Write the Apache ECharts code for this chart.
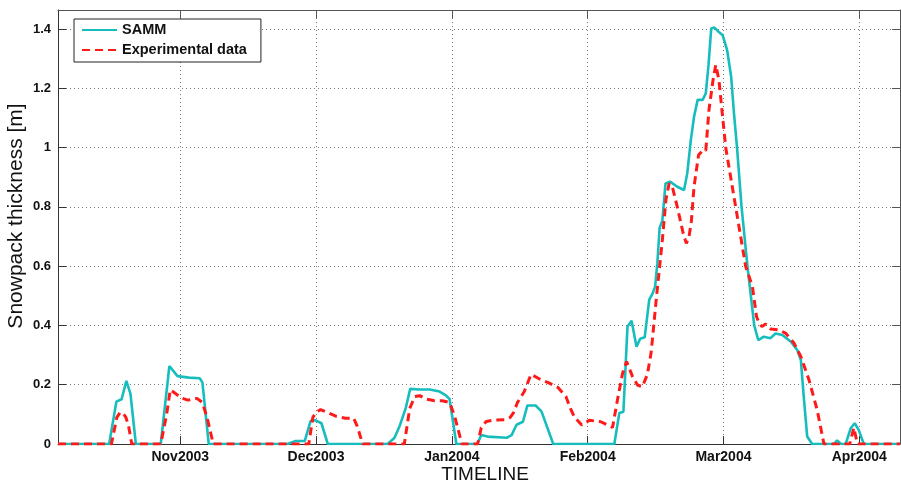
<!DOCTYPE html>
<html>
<head>
<meta charset="utf-8">
<script src="https://cdn.jsdelivr.net/npm/echarts@6/dist/echarts.min.js"></script>
<style>
html,body{margin:0;padding:0;background:#fff;}
#chart{width:901px;height:482px;}
</style>
</head>
<body>
<div id="chart"></div>
<script>
// Tick positions (day index from left edge of the time axis) and their labels
const monthLabels = ['Nov2003', 'Dec2003', 'Jan2004', 'Feb2004', 'Mar2004', 'Apr2004'];
const monthTickDays = [27, 57, 87, 117, 147, 177];

// SAMM model: day index and snowpack thickness [m]
const sammDays = [0, 11.3, 12.9, 14.05, 15.1, 16.0, 17.2,
  22.7, 24.6, 26.4, 28.9, 31.3, 31.9, 33.3,
  50.7, 52.5, 54.5, 55.8, 56.9, 58.2, 59.6,
  72.8, 74.3, 75.4, 76.8, 77.8, 79.9, 82.1, 84.3, 85.6, 86.5, 88.0,
  92.6, 93.5, 94.9, 99.1, 100.2, 101.3, 102.7, 103.7, 105.5, 106.8, 109.4,
  122.9, 124.0, 124.9, 125.8, 126.7, 127.8, 128.6, 129.6, 130.6, 131.4, 131.9, 132.4, 132.9, 133.5, 134.2, 135.2,
  136.8, 138.3, 139.0, 139.8, 140.5, 141.3, 142.4, 143.1, 143.7, 144.3, 145.0, 145.9, 146.8, 147.8, 148.7, 149.3,
  150.0, 151.0, 152.3, 153.8, 154.7, 155.9, 157.4, 158.5, 160.0, 161.9, 163.3, 164.1, 164.8, 165.5, 166.6,
  171.4, 172.1, 173.0, 174.0, 175.1, 176.0, 176.9, 178.0, 186];
const sammValues = [0, 0, 0.143, 0.151, 0.213, 0.17, 0,
  0, 0.263, 0.229, 0.224, 0.222, 0.208, 0,
  0, 0.01, 0.01, 0.078, 0.08, 0.07, 0,
  0, 0.02, 0.058, 0.12, 0.186, 0.184, 0.184, 0.177, 0.165, 0.152, 0,
  0, 0.03, 0.025, 0.021, 0.03, 0.065, 0.075, 0.13, 0.13, 0.11, 0,
  0, 0.105, 0.109, 0.396, 0.416, 0.328, 0.355, 0.36, 0.486, 0.51, 0.531, 0.61, 0.73, 0.753, 0.879, 0.885,
  0.868, 0.857, 0.913, 1.026, 1.104, 1.161, 1.161, 1.183, 1.279, 1.402, 1.405, 1.391, 1.38, 1.33, 1.24, 1.12,
  1.0, 0.8, 0.6, 0.4, 0.35, 0.362, 0.357, 0.373, 0.368, 0.345, 0.317, 0.283, 0.148, 0.025, 0,
  0, 0.012, 0, 0, 0.053, 0.07, 0.047, 0, 0];

// Experimental data: day index and snowpack thickness [m]
const expDays = [0, 11.8, 12.6, 13.0, 13.7, 14.3, 15.0, 15.6, 16.3,
  22.7, 24.0, 24.8, 25.8, 27.3, 28.7, 30.7, 31.9, 33.0, 34.3,
  55.4, 56.3, 57.1, 58.0, 59.8, 61.5, 63.5, 65.3, 66.1, 67.3,
  76.5, 77.7, 78.8, 79.9, 81.4, 83.2, 84.9, 86.5, 87.6, 88.7, 89.2,
  92.7, 93.5, 94.6, 96.4, 98.6, 99.9, 100.6, 101.5, 103.0, 104.5, 106.3, 108.3, 110.5, 112.2, 113.2, 114.1,
  115.7, 117.4, 119.9, 122.5, 123.6, 124.7, 125.6, 126.9, 128.0, 129.1, 130.2, 131.0, 131.3, 132.1, 133.5,
  134.3, 135.0, 135.7, 136.8, 138.1, 138.8, 139.4, 139.9, 140.5, 141.5, 142.5, 143.1, 143.8, 144.7, 145.3,
  146.0, 147.5, 149.7, 151.9, 153.4, 154.3, 154.9, 155.5, 156.3, 157.4, 159.3, 160.8, 162.6, 164.1, 165.9,
  167.7, 169.2, 174.9, 175.8, 176.6, 186];
const expValues = [0, 0, 0.06, 0.09, 0.106, 0.105, 0.09, 0.06, 0,
  0, 0.1, 0.183, 0.172, 0.155, 0.148, 0.154, 0.14, 0.085, 0,
  0, 0.09, 0.108, 0.116, 0.104, 0.093, 0.087, 0.087, 0.06, 0,
  0, 0.12, 0.16, 0.163, 0.151, 0.146, 0.146, 0.14, 0.095, 0.03, 0,
  0, 0.055, 0.076, 0.081, 0.082, 0.09, 0.105, 0.14, 0.177, 0.235, 0.22, 0.207, 0.19, 0.16, 0.12, 0.09,
  0.064, 0.08, 0.075, 0.056, 0.15, 0.238, 0.278, 0.228, 0.199, 0.193, 0.235, 0.306, 0.351, 0.48, 0.688,
  0.825, 0.879, 0.868, 0.8, 0.711, 0.677, 0.7, 0.75, 0.868, 0.975, 0.992, 0.99, 1.127, 1.228, 1.279,
  1.228, 1.0, 0.8, 0.6, 0.531, 0.43, 0.407, 0.396, 0.405, 0.388, 0.385, 0.373, 0.34, 0.295, 0.216,
  0.115, 0, 0, 0.055, 0, 0];

const yTickStep = 0.2;
const xMin = 0, xMax = 186;
const yMin = 0, yMax = 1.4642;

const FONT = '"Liberation Sans", Arial, sans-serif';
const AXIS_COLOR = '#333';
const GRID_LINE = { type: [1, 3], color: '#777', width: 1 };

function pairs(xs, ys) { return xs.map((x, i) => [x, ys[i]]); }
function monthFormatter(v) {
  const i = monthTickDays.indexOf(Math.round(v));
  return i >= 0 ? monthLabels[i] : '';
}
function yFormatter(v) {
  const k = v / yTickStep;
  if (Math.abs(k - Math.round(k)) > 1e-6) return '';
  return String(Math.round(v * 10) / 10);
}

const chart = echarts.init(document.getElementById('chart'), null, { renderer: 'canvas' });
chart.setOption({
  animation: false,
  backgroundColor: '#fff',
  grid: { left: 58, right: 1, top: 10, bottom: 38, show: false, containLabel: false, outerBoundsMode: 'none' },
  legend: {
    orient: 'vertical',
    left: 74, top: 19,
    itemWidth: 35, itemHeight: 14, itemGap: 4,
    padding: [3, 14, 4, 7],
    borderColor: '#222', borderWidth: 1,
    backgroundColor: '#fff',
    itemStyle: { opacity: 0 },
    textStyle: { fontFamily: FONT, fontWeight: 'bold', fontSize: 14.5, color: '#111', lineHeight: 16 },
    data: ['SAMM', 'Experimental data']
  },
  xAxis: [{
    type: 'value', min: xMin, max: xMax, position: 'bottom',
    axisLine: { show: true, onZero: false, lineStyle: { color: AXIS_COLOR, width: 1 } },
    axisTick: { show: true, inside: true, length: 8, customValues: monthTickDays, lineStyle: { color: AXIS_COLOR } },
    axisLabel: { customValues: monthTickDays, formatter: monthFormatter, fontFamily: FONT, fontWeight: 'bold', fontSize: 14, color: '#111', margin: 6 },
    splitLine: { show: true, lineStyle: GRID_LINE },
    name: 'TIMELINE', nameLocation: 'middle', nameGap: 21, nameMoveOverlap: false,
    nameTextStyle: { fontFamily: FONT, fontSize: 19, color: '#111', padding: [0, 0, 0, 12] }
  }, {
    type: 'value', min: xMin, max: xMax, position: 'top',
    axisLine: { show: true, onZero: false, lineStyle: { color: '#555', width: 1 } },
    axisTick: { show: true, inside: true, length: 8, customValues: monthTickDays, lineStyle: { color: '#555' } },
    axisLabel: { show: false },
    splitLine: { show: false }
  }],
  yAxis: [{
    type: 'value', min: yMin, max: yMax, interval: yTickStep, position: 'left',
    axisLine: { show: true, onZero: false, lineStyle: { color: AXIS_COLOR, width: 1 } },
    axisTick: { show: true, inside: true, length: 8, lineStyle: { color: AXIS_COLOR } },
    axisLabel: { formatter: yFormatter, fontFamily: FONT, fontWeight: 'bold', fontSize: 13, color: '#111', margin: 7, showMaxLabel: false },
    splitLine: { show: true, lineStyle: GRID_LINE },
    name: 'Snowpack thickness [m]', nameLocation: 'middle', nameGap: 31, nameMoveOverlap: false,
    nameTextStyle: { fontFamily: FONT, fontSize: 21, color: '#111', padding: [0, 0, 0, 22] }
  }, {
    type: 'value', min: yMin, max: yMax, interval: yTickStep, position: 'right',
    axisLine: { show: true, onZero: false, lineStyle: { color: '#555', width: 1 } },
    axisTick: { show: true, inside: true, length: 8, lineStyle: { color: '#555' } },
    axisLabel: { show: false },
    splitLine: { show: false }
  }],
  series: [{
    name: 'SAMM', type: 'line', xAxisIndex: 0, yAxisIndex: 0,
    data: pairs(sammDays, sammValues),
    symbol: 'none', showSymbol: false, smooth: false,
    lineStyle: { color: '#17BDBD', width: 2.6 },
    itemStyle: { color: '#17BDBD' },
    z: 3
  }, {
    name: 'Experimental data', type: 'line', xAxisIndex: 0, yAxisIndex: 0,
    data: pairs(expDays, expValues),
    symbol: 'none', showSymbol: false, smooth: false,
    lineStyle: { color: '#FF1A1A', width: 3, type: [8, 5] },
    itemStyle: { color: '#FF1A1A' },
    z: 4
  }]
});
</script>
</body>
</html>
